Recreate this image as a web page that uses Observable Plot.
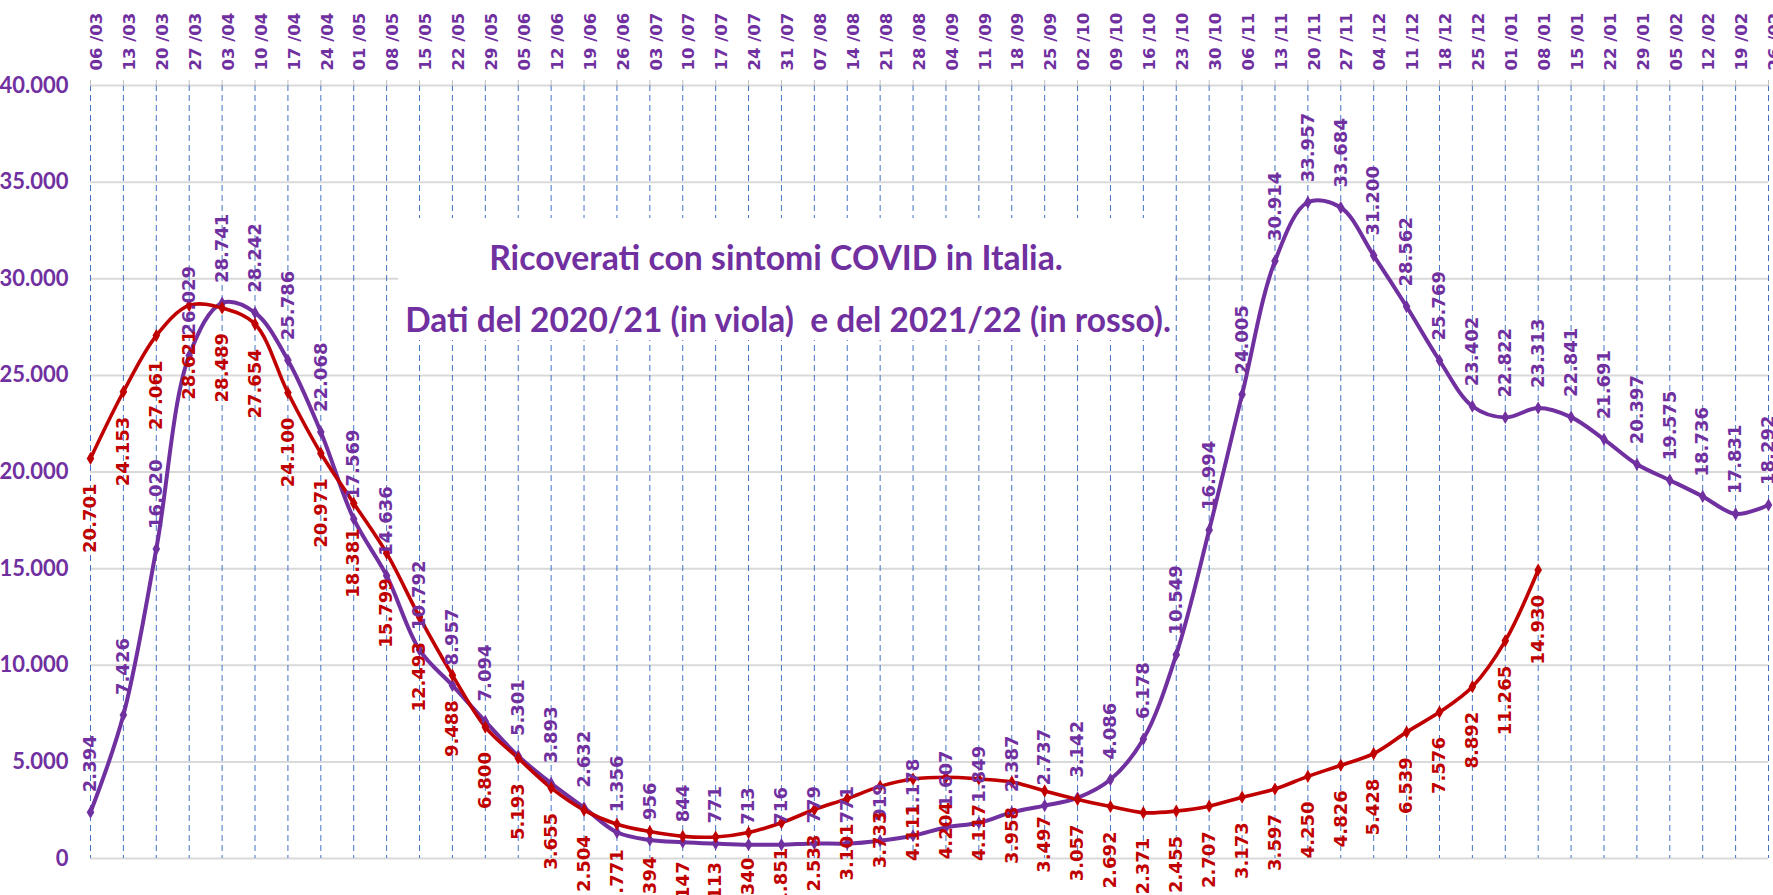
<!DOCTYPE html>
<html><head><meta charset="utf-8">
<script src="https://cdn.jsdelivr.net/npm/d3@7"></script>
<script src="https://cdn.jsdelivr.net/npm/@observablehq/plot@0.6"></script>
<style>
html,body{margin:0;padding:0;background:#fff;}
#wrap{position:relative;width:1773px;height:895px;overflow:hidden;}
#title{position:absolute;left:398px;top:218px;width:777px;height:122px;background:#fff;color:#7030A0;font-family:Lato,"Open Sans",sans-serif;font-weight:bold;font-size:31px;}
#title span{position:absolute;white-space:pre;line-height:1;}
g[aria-label="y-axis tick label"]{font-size:22px !important;font-family:Lato,sans-serif !important;font-weight:bold !important;}
</style></head><body>
<div id="wrap"><div id="title"><span id="t1"></span><span id="t2"></span></div></div>
<script>
const dates = ["06/03","13/03","20/03","27/03","03/04","10/04","17/04","24/04","01/05","08/05","15/05","22/05","29/05","05/06","12/06","19/06","26/06","03/07","10/07","17/07","24/07","31/07","07/08","14/08","21/08","28/08","04/09","11/09","18/09","25/09","02/10","09/10","16/10","23/10","30/10","06/11","13/11","20/11","27/11","04/12","11/12","18/12","25/12","01/01","08/01","15/01","22/01","29/01","05/02","12/02","19/02","26/02"];
// 2020/21 (in viola)
const viola = [2394,7426,16020,26029,28741,28242,25786,22068,17569,14636,10792,8957,7094,5301,3893,2632,1356,956,844,771,713,716,779,771,919,1178,1607,1849,2387,2737,3142,4086,6178,10549,16994,24005,30914,33957,33684,31200,28562,25769,23402,22822,23313,22841,21691,20397,19575,18736,17831,18292];
// 2021/22 (in rosso)
const rosso = [20701,24153,27061,28621,28489,27654,24100,20971,18381,15799,12493,9488,6800,5193,3655,2504,1771,1394,1147,1113,1340,1851,2533,3101,3733,4111,4204,4117,3958,3497,3057,2692,2371,2455,2707,3173,3597,4250,4826,5428,6539,7576,8892,11265,14930];
const yTicks = [0,5000,10000,15000,20000,25000,30000,35000,40000];
const titleLines = ["Ricoverati con sintomi COVID in Italia.","Dati del 2020/21 (in viola)  e del 2021/22 (in rosso)."];

const VIOLA = "#7030A0", ROSSO = "#C00000";
const fmt = d3.formatLocale({decimal:",", thousands:".", grouping:[3], currency:["€",""]}).format(",d");
const violaData = dates.map((d,i)=>({date:d, value:viola[i]}));
const rossoData = rosso.map((v,i)=>({date:dates[i], value:v}));
const labelFont = "DejaVu Sans";

const chart = Plot.plot({
  width:1773, height:895,
  marginLeft:90, marginRight:5, marginTop:85, marginBottom:37,
  x:{type:"point", domain:dates, padding:0},
  y:{domain:[0,40000]},
  marks:[
    Plot.ruleY(yTicks, {stroke:"#d9d9d9", strokeWidth:2}),
    Plot.ruleX(dates, {stroke:"#4472C4", strokeDasharray:"6,4", strokeWidth:1}),
    Plot.axisX({anchor:"top", tickSize:6, stroke:"#bfbfbf", tickFormat:()=>"", label:null}),
    Plot.text(dates, {x:d=>d, frameAnchor:"top", dy:-15, rotate:-90, textAnchor:"start",
      text:d=>d.replace("/"," /"), fill:VIOLA, fontSize:16.5, fontWeight:"bold", fontFamily:labelFont}),
    Plot.axisY({ticks:yTicks, tickFormat:fmt, tickSize:0, tickPadding:22, fill:VIOLA, label:null}),
    Plot.line(violaData, {x:"date", y:"value", stroke:VIOLA, strokeWidth:4, curve:"catmull-rom"}),
    Plot.line(rossoData, {x:"date", y:"value", stroke:ROSSO, strokeWidth:3.6, curve:"catmull-rom"}),
    Plot.dot(violaData, {x:"date", y:"value", symbol:"diamond", r:4, fill:VIOLA}),
    Plot.dot(rossoData, {x:"date", y:"value", symbol:"diamond", r:4, fill:ROSSO}),
    Plot.text(violaData, {x:"date", y:"value", text:d=>fmt(d.value), rotate:-90, textAnchor:"start", dy:-20,
      fill:VIOLA, fontSize:18, fontWeight:"bold", fontFamily:labelFont}),
    Plot.text(rossoData, {x:"date", y:"value", text:d=>fmt(d.value), rotate:-90, textAnchor:"end", dy:25,
      fill:ROSSO, fontSize:18, fontWeight:"bold", fontFamily:labelFont})
  ]
});
document.getElementById("wrap").prepend(chart);

// title lines: fit to the widths and centres
const specs = [{id:"t1", text:titleLines[0], width:574, cx:378, cy:40},
               {id:"t2", text:titleLines[1], width:766, cx:390, cy:102}];
for (const s of specs) {
  const el = document.getElementById(s.id);
  el.textContent = s.text;
  let fs = 31;
  el.style.fontSize = fs + "px";
  const w = el.getBoundingClientRect().width;
  fs = fs * s.width / w;
  el.style.fontSize = fs + "px";
  const r = el.getBoundingClientRect();
  el.style.left = (s.cx - r.width / 2) + "px";
  el.style.top = (s.cy - r.height / 2) + "px";
}
</script>
</body></html>
